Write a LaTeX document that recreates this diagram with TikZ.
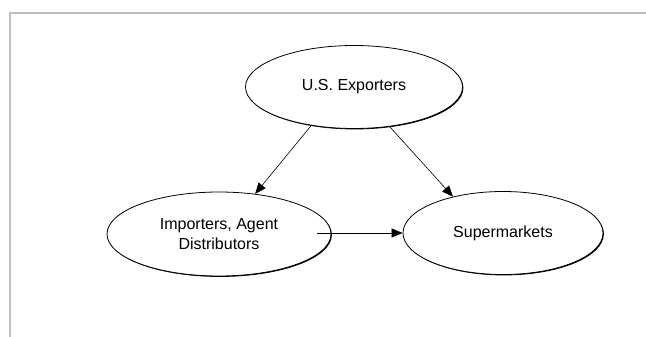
\documentclass[tikz,border=0pt]{standalone}
\usepackage{fontspec}
\setmainfont{Liberation Sans}
\usetikzlibrary{arrows.meta,shapes.geometric,shadows}

\begin{document}
\begin{tikzpicture}[
  x=1pt, y=-1pt,
  font=\fontsize{16}{20}\selectfont,
  oval/.style={ellipse, draw=black, line width=0.8pt, fill=white, inner sep=0pt,
               align=center, drop shadow={shadow xshift=0.9pt, shadow yshift=-0.9pt,
               opacity=1, fill=black}},
  arr/.style={-{Triangle[length=11pt, width=9pt]}, draw=black, line width=0.6pt},
  frame/.style={draw=black!25, line width=2pt}
]
\useasboundingbox (0,0) rectangle (646,337);
\draw[frame] (646,13) -- (10,13) -- (10,337);

\node[oval, minimum width=217pt, minimum height=83pt] (exp) at (354,87) {U.S. Exporters};
\node[oval, minimum width=224pt, minimum height=84pt] (imp) at (219,234) {Importers, Agent\\Distributors};
\node[oval, minimum width=200pt, minimum height=83pt] (sup) at (503,233) {Supermarkets};

\draw[arr] (exp.222) -- (imp.48);
\draw[arr] (exp.312) -- (sup.144);
\draw[arr] ([xshift=-14pt]imp.east |- sup.west) -- (sup.west);
\end{tikzpicture}
\end{document}
